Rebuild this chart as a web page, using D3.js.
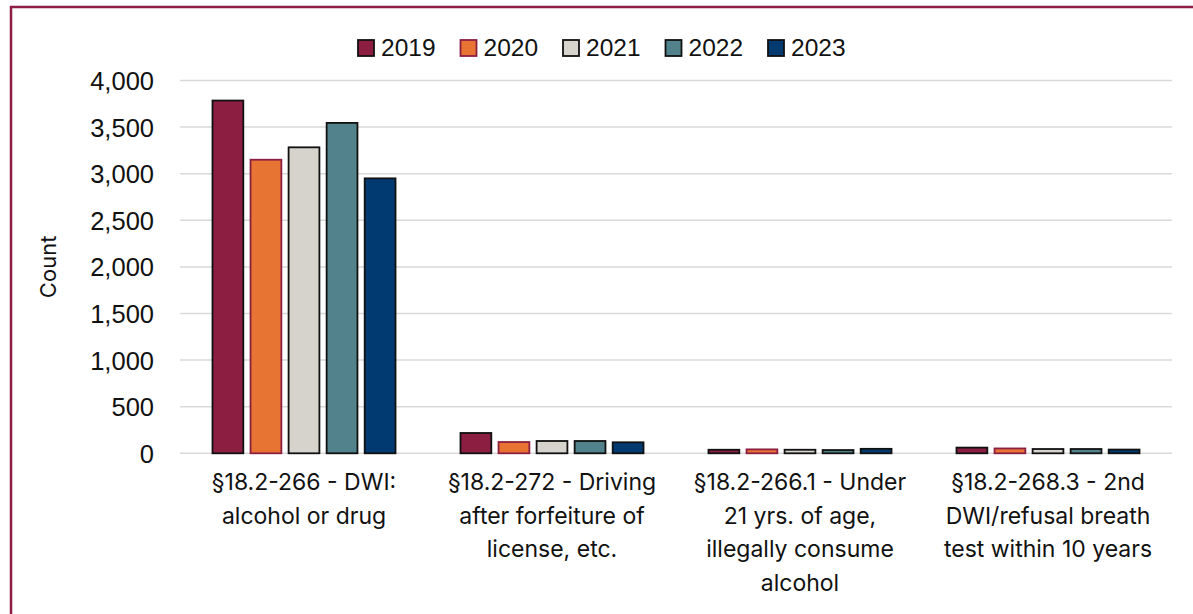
<!DOCTYPE html>
<html>
<head>
<meta charset="utf-8">
<script src="https://cdn.jsdelivr.net/npm/d3@7"></script>
<style>
  html, body { margin: 0; padding: 0; background: #fff; }
  svg { display: block; }
</style>
</head>
<body>
<svg id="chart" width="1193" height="614"></svg>
<script>
// Offense categories (multi-line labels) and yearly counts
const categories = [
  ["§18.2-266 - DWI:", "alcohol or drug"],
  ["§18.2-272 - Driving", "after forfeiture of", "license, etc."],
  ["§18.2-266.1 - Under", "21 yrs. of age,", "illegally consume", "alcohol"],
  ["§18.2-268.3 - 2nd", "DWI/refusal breath", "test within 10 years"]
];
const years = ["2019", "2020", "2021", "2022", "2023"];
const values2019 = [3785, 218, 38, 61];
const values2020 = [3150, 121, 42, 52];
const values2021 = [3283, 132, 38, 46];
const values2022 = [3545, 132, 35, 46];
const values2023 = [2950, 118, 48, 40];
const yTicks = [0, 500, 1000, 1500, 2000, 2500, 3000, 3500, 4000];

const series = [values2019, values2020, values2021, values2022, values2023];
const fills   = ["#8B1E41", "#E87433", "#D6D2CC", "#52838C", "#003A70"];
const strokes = ["#111111", "#8B1E41", "#111111", "#111111", "#111111"];

const svg = d3.select("#chart");

// Outer frame
svg.append("rect")
  .attr("x", 11).attr("y", 7)
  .attr("width", 1200).attr("height", 640)
  .attr("fill", "none")
  .attr("stroke", "#8B1E41")
  .attr("stroke-width", 2.5);

const plot = { left: 180, right: 1172, top: 80.5, bottom: 453.3 };

const y = d3.scaleLinear().domain([0, 4000]).range([plot.bottom, plot.top]);
const x0 = d3.scaleBand()
  .domain(d3.range(categories.length))
  .range([plot.left, plot.right])
  .paddingInner(0.262).paddingOuter(0.131);
const x1 = d3.scaleBand()
  .domain(years)
  .range([0, x0.bandwidth()])
  .paddingInner(0.19).paddingOuter(0);

// Gridlines
svg.append("g")
  .selectAll("line")
  .data(yTicks)
  .join("line")
  .attr("x1", plot.left).attr("x2", plot.right)
  .attr("y1", d => y(d)).attr("y2", d => y(d))
  .attr("stroke", "#D9D9D9")
  .attr("stroke-width", 1.5);

// Y axis labels
const yAxis = d3.axisLeft(y).tickValues(yTicks).tickSize(0).tickPadding(0)
  .tickFormat(d3.format(","));
svg.append("g")
  .attr("transform", `translate(154,0)`)
  .call(yAxis)
  .call(g => g.select(".domain").remove())
  .selectAll("text")
  .attr("font-family", "'Liberation Sans', Arial, sans-serif")
  .attr("font-size", 25.5)
  .attr("fill", "#111")
  .attr("dy", "0.35em");

// Y axis title
svg.append("text")
  .attr("transform", `translate(56,${(plot.top + plot.bottom) / 2}) rotate(-90)`)
  .attr("text-anchor", "middle")
  .attr("font-family", "Inter, 'Open Sans', sans-serif")
  .attr("font-size", 22)
  .attr("fill", "#111")
  .text("Count");

// Bars
const groups = svg.append("g")
  .selectAll("g")
  .data(categories.map((c, i) => i))
  .join("g")
  .attr("transform", i => `translate(${x0(i)},0)`);

groups.selectAll("rect")
  .data(i => years.map((yr, s) => ({ yr, s, v: series[s][i] })))
  .join("rect")
  .attr("x", d => x1(d.yr))
  .attr("y", d => y(d.v))
  .attr("width", x1.bandwidth())
  .attr("height", d => plot.bottom - y(d.v))
  .attr("fill", d => fills[d.s])
  .attr("stroke", d => strokes[d.s])
  .attr("stroke-width", 1.8);

// Category labels
const catLabels = svg.append("g")
  .selectAll("text")
  .data(categories)
  .join("text")
  .attr("x", (c, i) => x0(i) + x0.bandwidth() / 2)
  .attr("y", 490)
  .attr("text-anchor", "middle")
  .attr("font-family", "Inter, 'Open Sans', sans-serif")
  .attr("font-size", 23)
  .attr("fill", "#111");
catLabels.selectAll("tspan")
  .data(c => c)
  .join("tspan")
  .attr("x", function () { return d3.select(this.parentNode).attr("x"); })
  .attr("dy", (d, j) => j === 0 ? 0 : 33.6)
  .text(d => d);

// Legend
const legend = svg.append("g").attr("transform", "translate(357,39)");
const items = legend.selectAll("g")
  .data(years)
  .join("g")
  .attr("transform", (d, i) => `translate(${i * 102.5},0)`);
items.append("rect")
  .attr("x", 1).attr("y", 1)
  .attr("width", 16).attr("height", 16)
  .attr("fill", (d, i) => fills[i])
  .attr("stroke", (d, i) => strokes[i])
  .attr("stroke-width", 1.8);
items.append("text")
  .attr("x", 24).attr("y", 17)
  .attr("font-family", "'Liberation Sans', Arial, sans-serif")
  .attr("font-size", 24.5)
  .attr("fill", "#111")
  .text(d => d);
</script>
</body>
</html>
